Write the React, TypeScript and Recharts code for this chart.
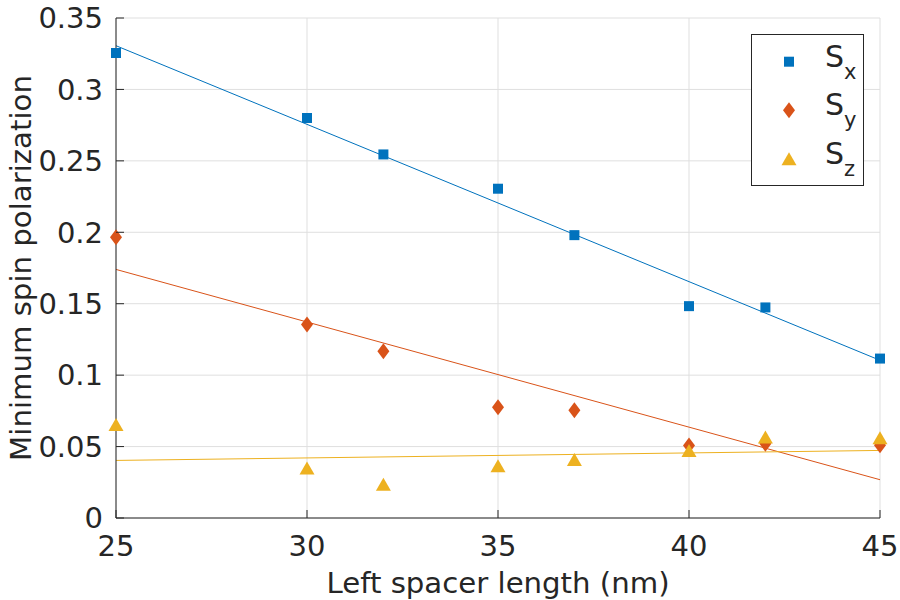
import {
  CartesianGrid,
  ComposedChart,
  Legend,
  Line,
  Scatter,
  XAxis,
  YAxis,
} from "recharts";

// left spacer length (nm) of each simulated device
const lengths = [25, 30, 32, 35, 37, 40, 42, 45];
const sxValues = [0.3255, 0.28, 0.2545, 0.2305, 0.198, 0.1483, 0.1474, 0.1116];
const syValues = [0.1965, 0.1355, 0.1168, 0.0775, 0.0755, 0.0508, 0.052, 0.051];
const szValues = [0.0655, 0.035, 0.0237, 0.0365, 0.041, 0.0473, 0.0567, 0.0562];

// linear fits, evaluated at the ends of the range
const fitLengths = [25, 45];
const sxFit = [0.3306, 0.1104];
const syFit = [0.174, 0.0268];
const szFit = [0.0403, 0.0473];

const xTicks = [25, 30, 35, 40, 45];
const yTicks = [0, 0.05, 0.1, 0.15, 0.2, 0.25, 0.3, 0.35];

const FONT = "'DejaVu Sans', Verdana, sans-serif";
const INK = "#262626";
const GRID = "#dfdfdf";
const TICK_FONT = 29;
const LABEL_FONT = 29.2;
const TICK_LEN = 8;
const Y_TICK_GAP = 13;
const X_TICK_GAP = 17;

const toPoints = (xs: number[], ys: number[]) => xs.map((x, i) => ({ x, y: ys[i] }));

type MarkerKind = "square" | "diamond" | "triangle";

function markerPath(kind: MarkerKind, cx: number, cy: number) {
  if (kind === "square") {
    return `M${cx - 5},${cy - 5}h10v10h-10Z`;
  }
  if (kind === "diamond") {
    return `M${cx},${cy - 8}L${cx + 6},${cy}L${cx},${cy + 8}L${cx - 6},${cy}Z`;
  }
  return `M${cx},${cy - 6.5}L${cx + 7.5},${cy + 6.5}L${cx - 7.5},${cy + 6.5}Z`;
}

const series = [
  { key: "sx", sub: "x", color: "#0072BD", marker: "square" as MarkerKind, values: sxValues, fit: sxFit },
  { key: "sy", sub: "y", color: "#D95319", marker: "diamond" as MarkerKind, values: syValues, fit: syFit },
  { key: "sz", sub: "z", color: "#EDB120", marker: "triangle" as MarkerKind, values: szValues, fit: szFit },
];

const fmtY = (v: number) => `${+v.toFixed(2)}`;

function LeftTick(props: any) {
  const { x, y, payload } = props;
  const axisX = x + Y_TICK_GAP;
  return (
    <g>
      <line x1={axisX} x2={axisX + TICK_LEN} y1={y} y2={y} stroke={INK} />
      <text x={x} y={y} dy="0.355em" textAnchor="end" fill={INK} fontSize={TICK_FONT} fontFamily={FONT}>
        {fmtY(payload.value)}
      </text>
    </g>
  );
}

function BottomTick(props: any) {
  const { x, y, payload } = props;
  const axisY = y - X_TICK_GAP;
  return (
    <g>
      <line x1={x} x2={x} y1={axisY} y2={axisY - TICK_LEN} stroke={INK} />
      <text x={x} y={y} dy="0.73em" textAnchor="middle" fill={INK} fontSize={TICK_FONT} fontFamily={FONT}>
        {payload.value}
      </text>
    </g>
  );
}

function TopTick(props: any) {
  const { x, y } = props;
  return <line x1={x} x2={x} y1={y} y2={y + TICK_LEN} stroke={INK} />;
}

function RightTick(props: any) {
  const { x, y } = props;
  return <line x1={x} x2={x - TICK_LEN} y1={y} y2={y} stroke={INK} />;
}

function XLabel(props: any) {
  const { x, y, width, height } = props.viewBox;
  return (
    <text x={x + width / 2} y={y + height - 7} textAnchor="middle" fill={INK} fontSize={LABEL_FONT} fontFamily={FONT}>
      Left spacer length (nm)
    </text>
  );
}

function YLabel(props: any) {
  const { y, height } = props.viewBox;
  const cx = 31;
  const cy = y + height / 2;
  return (
    <text
      x={cx}
      y={cy}
      transform={`rotate(-90, ${cx}, ${cy})`}
      textAnchor="middle"
      fill={INK}
      fontSize={LABEL_FONT}
      fontFamily={FONT}
    >
      Minimum spin polarization
    </text>
  );
}

function LegendBox() {
  return (
    <svg width={114} height={153} style={{ display: "block" }}>
      <rect x={0.5} y={0.5} width={112} height={151} fill="#fff" stroke={INK} />
      {series.map((s, i) => {
        const cy = 27.7 + i * 48.5;
        return (
          <g key={s.key}>
            <path d={markerPath(s.marker, 38, cy)} fill={s.color} />
            <text x={74} y={cy + 5} fill={INK} fontSize={30} fontFamily={FONT}>
              S
              <tspan dy={12} fontSize={21}>
                {s.sub}
              </tspan>
            </text>
          </g>
        );
      })}
    </svg>
  );
}

export default function App() {
  return (
    <div style={{ position: "fixed", left: 0, top: 0, width: 900, height: 600, background: "#fff" }}>
      <ComposedChart width={900} height={600} margin={{ top: 18, right: 20, bottom: 0, left: 0 }}>
        <CartesianGrid stroke={GRID} />
        <XAxis
          dataKey="x"
          type="number"
          domain={[25, 45]}
          ticks={xTicks}
          height={82}
          tickSize={0}
          tickMargin={X_TICK_GAP}
          tickLine={false}
          axisLine={{ stroke: INK }}
          tick={<BottomTick />}
          label={<XLabel />}
        />
        <XAxis
          xAxisId="top"
          orientation="top"
          type="number"
          domain={[25, 45]}
          ticks={xTicks}
          height={0}
          tickSize={0}
          tickMargin={0}
          tickLine={false}
          axisLine={{ stroke: INK }}
          tick={<TopTick />}
        />
        <YAxis
          type="number"
          domain={[0, 0.35]}
          ticks={yTicks}
          width={116}
          tickSize={0}
          tickMargin={Y_TICK_GAP}
          tickLine={false}
          axisLine={{ stroke: INK }}
          tick={<LeftTick />}
          label={<YLabel />}
        />
        <YAxis
          yAxisId="right"
          orientation="right"
          type="number"
          domain={[0, 0.35]}
          ticks={yTicks}
          width={0}
          tickSize={0}
          tickMargin={0}
          tickLine={false}
          axisLine={{ stroke: INK }}
          tick={<RightTick />}
        />
        {series.map((s) => (
          <Line
            key={`${s.key}-fit`}
            data={toPoints(fitLengths, s.fit)}
            dataKey="y"
            type="linear"
            stroke={s.color}
            strokeWidth={1}
            dot={false}
            activeDot={false}
            legendType="none"
            isAnimationActive={false}
          />
        ))}
        {series.map((s) => (
          <Scatter
            key={s.key}
            name={s.key}
            data={toPoints(lengths, s.values)}
            dataKey="y"
            fill={s.color}
            isAnimationActive={false}
            shape={(p: any) => <path d={markerPath(s.marker, p.cx, p.cy)} fill={s.color} />}
          />
        ))}
        <Legend
          layout="horizontal"
          align="center"
          verticalAlign="middle"
          wrapperStyle={{ left: 751, top: 34, width: 114 }}
          content={() => <LegendBox />}
        />
      </ComposedChart>
    </div>
  );
}
